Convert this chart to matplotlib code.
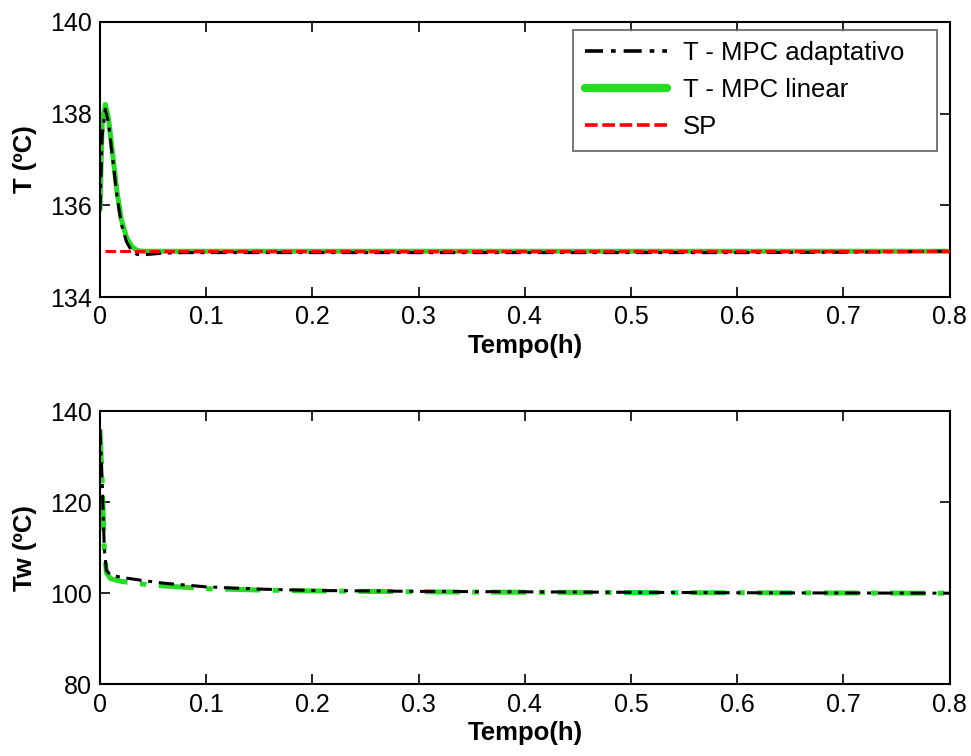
import matplotlib
matplotlib.use("Agg")
import matplotlib.pyplot as plt

plt.rcParams['font.family'] = ['Liberation Sans', 'DejaVu Sans']

# Reactor temperature T (upper panel)
t_T = [0.0, 0.002, 0.005, 0.008, 0.012, 0.016, 0.020, 0.025, 0.030, 0.035,
       0.040, 0.050, 0.060, 0.080, 0.10, 0.20, 0.30, 0.40, 0.50, 0.60, 0.70, 0.80]
T_adapt = [135.9, 137.5, 138.1, 137.8, 137.0, 136.2, 135.6, 135.2, 135.0, 134.93,
           134.92, 134.94, 134.96, 134.97, 134.97, 134.97, 134.97, 134.97, 134.97,
           134.97, 134.98, 135.0]
T_linear = [135.9, 137.8, 138.2, 137.9, 137.1, 136.3, 135.7, 135.3, 135.1, 135.02,
            135.0, 135.0, 135.0, 135.0, 135.0, 135.0, 135.0, 135.0, 135.0, 135.0,
            135.0, 135.0]
t_sp = [0.005, 0.80]
T_sp = [135.0, 135.0]

# Jacket temperature Tw (lower panel)
t_Tw = [0.0, 0.002, 0.004, 0.006, 0.010, 0.020, 0.040, 0.060, 0.10, 0.15,
        0.20, 0.30, 0.40, 0.50, 0.60, 0.70, 0.80]
Tw_adapt = [136.0, 125.0, 110.0, 105.0, 104.0, 103.5, 102.8, 102.2, 101.4, 100.9,
            100.6, 100.4, 100.3, 100.2, 100.1, 100.05, 100.0]
Tw_linear = [136.0, 125.0, 110.0, 104.5, 103.2, 102.6, 102.0, 101.6, 101.0, 100.7,
             100.5, 100.3, 100.2, 100.15, 100.1, 100.05, 100.0]

x_ticks = [0, 0.1, 0.2, 0.3, 0.4, 0.5, 0.6, 0.7, 0.8]
x_ticklabels = ['0', '0.1', '0.2', '0.3', '0.4', '0.5', '0.6', '0.7', '0.8']
legend_labels = ['T - MPC adaptativo   ', 'T - MPC linear', 'SP']

label_font = dict(family=['Liberation Sans', 'DejaVu Sans'], size=18.5, weight='bold')

fig = plt.figure(figsize=(9.71, 7.56), dpi=100)
ax1 = fig.add_axes([0.103, 0.607, 0.875, 0.364])
ax2 = fig.add_axes([0.103, 0.095, 0.875, 0.361])

green = '#22dd22'
dashdot = (0, (5, 2.2, 1.3, 2.2))

# Upper panel
l_lin, = ax1.plot(t_T, T_linear, color=green, lw=3.6, zorder=2,
                  solid_capstyle='round')
l_ad, = ax1.plot(t_T, T_adapt, color='black', lw=2.2, linestyle=dashdot, zorder=3)
l_sp, = ax1.plot(t_sp, T_sp, color='red', lw=2.2, linestyle=(0, (3.5, 1.3)), zorder=4)
ax1.set_xlim(0, 0.8)
ax1.set_ylim(134, 140)
ax1.set_yticks([134, 136, 138, 140])
ax1.set_xlabel('Tempo(h)', fontdict=label_font, labelpad=3)
ax1.set_ylabel('T (ºC)', fontdict=label_font, labelpad=9)
leg = ax1.legend([l_ad, l_lin, l_sp], legend_labels,
                 loc='upper right', bbox_to_anchor=(0.985, 0.971),
                 prop=dict(family='Liberation Sans', size=18.5),
                 frameon=True, fancybox=False, handlelength=3.2,
                 handletextpad=0.6, borderpad=0.45, labelspacing=0.5,
                 borderaxespad=0.0)
leg.get_frame().set_edgecolor('#555555')
leg.get_frame().set_linewidth(1.4)
leg_h = leg.legend_handles
leg_h[0].set_linewidth(2.6)
leg_h[1].set_linewidth(6.0)
leg_h[2].set_linewidth(2.6)

# Lower panel
ax2.plot(t_Tw, Tw_linear, color=green, lw=3.6, linestyle=(0, (7, 2.5, 1.3, 2.5)), zorder=2)
ax2.plot(t_Tw, Tw_adapt, color='black', lw=2.2, linestyle=dashdot, zorder=3)
ax2.set_xlim(0, 0.8)
ax2.set_ylim(80, 140)
ax2.set_yticks([80, 100, 120, 140])
ax2.set_xlabel('Tempo(h)', fontdict=label_font, labelpad=3)
ax2.set_ylabel('Tw (ºC)', fontdict=label_font, labelpad=9)

for ax in (ax1, ax2):
    ax.set_xticks(x_ticks)
    ax.set_xticklabels(x_ticklabels)
    ax.tick_params(direction='in', top=True, right=True, labelsize=18,
                   length=7, width=1.2, pad=6)
    for s in ax.spines.values():
        s.set_linewidth(1.5)

fig.savefig('out.png', dpi=100, facecolor='white')
